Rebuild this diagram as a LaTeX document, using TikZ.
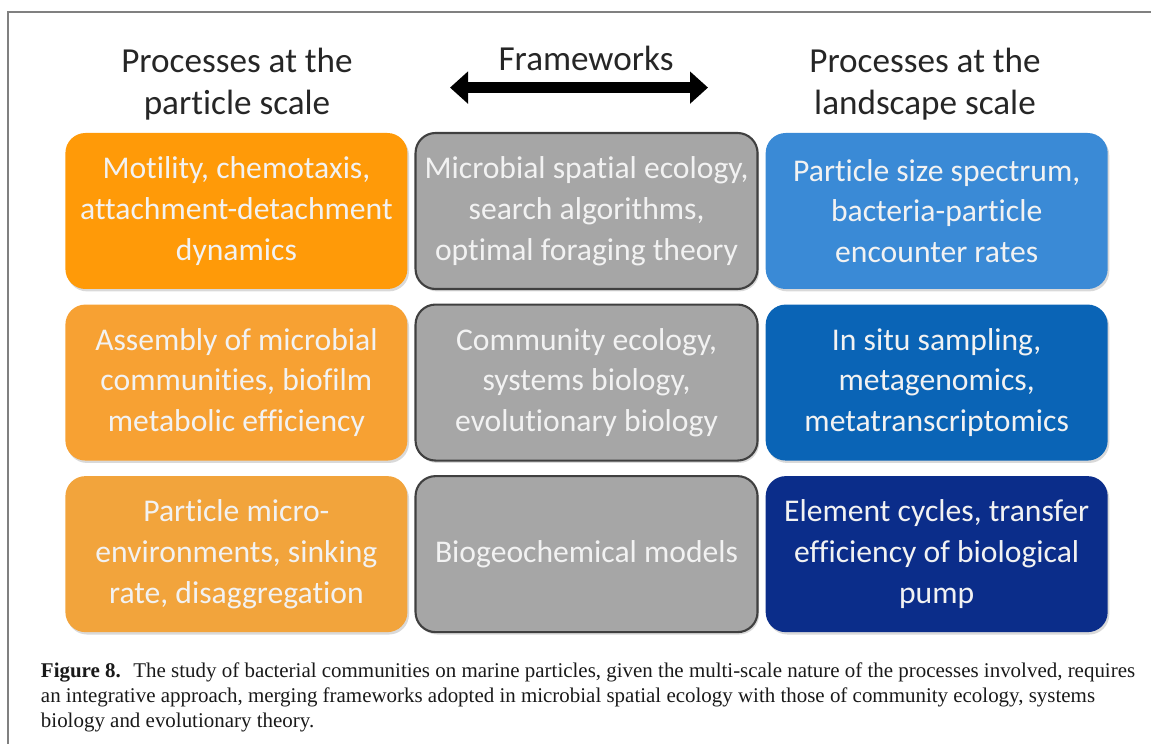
\documentclass[tikz,border=0pt]{standalone}
\usepackage{fontspec}
\setmainfont{Carlito}[Ligatures={NoCommon}]
\newfontfamily\capfont{Liberation Serif}
\usepackage{xcolor}
\usepackage{tikz}
\usetikzlibrary{arrows.meta, positioning, shadows}

\definecolor{orangeA}{HTML}{FF9A08}
\definecolor{orangeB}{HTML}{F7A133}
\definecolor{orangeC}{HTML}{F2A43C}
\definecolor{blueA}{HTML}{3A8AD6}
\definecolor{blueB}{HTML}{0A64B6}
\definecolor{blueC}{HTML}{0B2D8A}
\definecolor{grayfill}{HTML}{A6A6A6}
\definecolor{grayline}{HTML}{404040}
\definecolor{boxtext}{HTML}{F2F2F2}
\definecolor{headtext}{HTML}{262626}
\definecolor{framecol}{HTML}{808080}

\begin{document}
\begin{tikzpicture}[
    node distance=0.375cm and 0.17cm,
    box/.style={rectangle, rounded corners=0.5cm, minimum width=8.55cm, minimum height=3.9cm, align=center, text=boxtext, font=\fontsize{22.5}{29}\selectfont, drop shadow={opacity=0.3, shadow xshift=0.04cm, shadow yshift=-0.06cm}},
    fwbox/.style={box, fill=grayfill, draw=grayline, line width=1.5pt},
    head/.style={align=center, text=headtext, font=\fontsize{25}{29.5}\selectfont},
    bigarrow/.style={line width=0.27cm, {Triangle[length=0.45cm, width=0.78cm]}-{Triangle[length=0.45cm, width=0.78cm]}}
]
\useasboundingbox (0,0) rectangle (28.775,-18.6);

% Frame
\draw[framecol, line width=1.5pt] (0.2,-18.6) |- (28.775,-0.3);

% Column heads
\node[head] (particle) at (5.925,-2.1) {Processes at the\\particle scale};
\node[head] (frameworks) at (14.65,-1.45) {Frameworks};
\node[head] (landscape) at (23.125,-2.1) {Processes at the\\landscape scale};
\coordinate (fwleft) at (11.25,-2.19);
\coordinate (fwright) at (17.7,-2.19);
\draw[bigarrow] (fwleft) -- (fwright);

% Row 1
\node[box, fill=orangeA] (motility) at (5.91,-5.275) {Motility, chemotaxis,\\attachment-detachment\\dynamics};
\node[fwbox, right=of motility] (spatial) {Microbial spatial ecology,\\search algorithms,\\optimal foraging theory};
\node[box, fill=blueA, right=of spatial] (spectrum) {Particle size spectrum,\\bacteria-particle\\encounter rates};

% Row 2
\node[box, fill=orangeB, below=of motility] (assembly) {Assembly of microbial\\communities, biofilm\\metabolic efficiency};
\node[fwbox, right=of assembly] (community) {Community ecology,\\systems biology,\\evolutionary biology};
\node[box, fill=blueB, right=of community] (sampling) {In situ sampling,\\metagenomics,\\metatranscriptomics};

% Row 3
\node[box, fill=orangeC, below=of assembly] (microenv) {Particle micro-\\environments, sinking\\rate, disaggregation};
\node[fwbox, right=of microenv] (biogeo) {Biogeochemical models};
\node[box, fill=blueC, right=of biogeo] (cycles) {Element cycles, transfer\\efficiency of biological\\pump};

% Caption
\node[anchor=north west, align=left, text=black!90, font=\capfont\fontsize{14.9}{17.6}\selectfont] (caption) at (0.9,-16.45)
  {\textbf{Figure 8.}\hspace{0.6em}The study of bacterial communities on marine particles, given the multi-scale nature of the processes involved, requires\\
   an integrative approach, merging frameworks adopted in microbial spatial ecology with those of community ecology, systems\\
   biology and evolutionary theory.};

\end{tikzpicture}
\end{document}
